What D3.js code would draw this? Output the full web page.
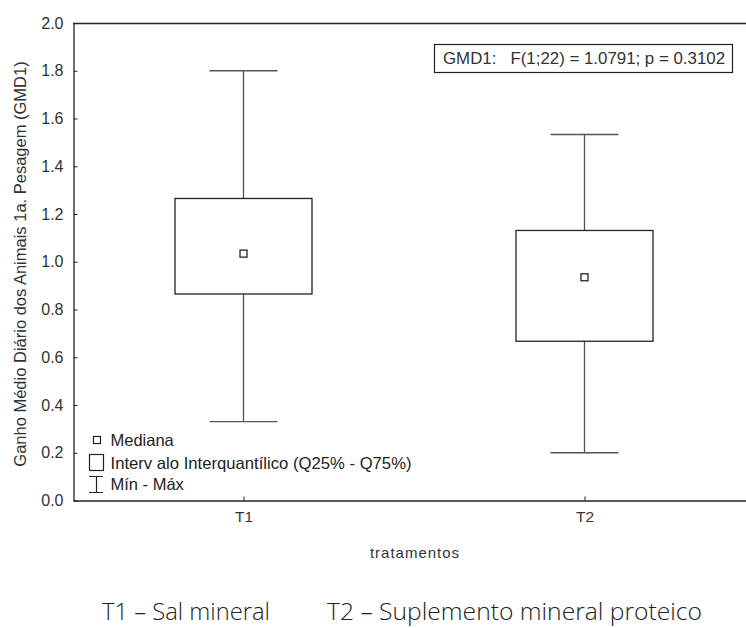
<!DOCTYPE html>
<html><head><meta charset="utf-8">
<script src="https://cdn.jsdelivr.net/npm/d3@7"></script>
<style>body{margin:0;background:#fff}svg{display:block}</style>
</head><body>
<svg id="c" width="746" height="628"></svg>
<script>
const categories = ["T1", "T2"];
const minVals = [0.33, 0.20];
const q25Vals = [0.865, 0.667];
const medianVals = [1.034, 0.935];
const q75Vals = [1.265, 1.131];
const maxVals = [1.80, 1.533];
const yTicks = [0.0, 0.2, 0.4, 0.6, 0.8, 1.0, 1.2, 1.4, 1.6, 1.8, 2.0];
const annotation = "GMD1:   F(1;22) = 1.0791; p = 0.3102";
const yTitle = "Ganho Médio Diário dos Animais 1a. Pesagem (GMD1)";
const xTitle = "tratamentos";
const legendItems = ["Mediana", "Interv alo Interquantílico (Q25% - Q75%)", "Mín - Máx"];
const caption1 = "T1 – Sal mineral", caption2 = "T2 – Suplemento mineral proteico";

const data = categories.map((c,i)=>({c, min:minVals[i], q25:q25Vals[i], med:medianVals[i], q75:q75Vals[i], max:maxVals[i]}));
const svg = d3.select("#c");
const L=73, T=23, B=500.5, R=755;
const y = d3.scaleLinear().domain([0,2]).range([B,T]);
const x = d3.scalePoint().domain(categories).range([L,R]).padding(0.5);
const font = "Liberation Sans, Arial, sans-serif";
const txt = "#333";

svg.append("line").attr("x1",L).attr("x2",746).attr("y1",T+0.5).attr("y2",T+0.5).attr("stroke","#222").attr("stroke-width",1.3);

const yAxis = svg.append("g").attr("transform",`translate(${L+0.5},0)`)
  .call(d3.axisLeft(y).tickValues(yTicks).tickFormat(d3.format(".1f")).tickSizeInner(-4).tickSizeOuter(0).tickPadding(10));
yAxis.select(".domain").attr("stroke","#222").attr("stroke-width",1.3);
yAxis.selectAll(".tick line").attr("stroke","#222");
yAxis.selectAll("text").attr("font-family",font).attr("font-size",16).attr("fill",txt);

const xAxis = svg.append("g").attr("transform",`translate(0,${B})`)
  .call(d3.axisBottom(x).tickSizeInner(-4).tickSizeOuter(0).tickPadding(10));
xAxis.select(".domain").attr("stroke","#222").attr("stroke-width",1.3);
xAxis.selectAll(".tick line").attr("stroke","#222");
xAxis.selectAll("text").attr("font-family",font).attr("font-size",15.5).attr("fill",txt);

const bw = 137, cw = 68;
const g = svg.append("g").selectAll("g").data(data).join("g");
g.append("line").attr("x1",d=>x(d.c)).attr("x2",d=>x(d.c)).attr("y1",d=>y(d.max)).attr("y2",d=>y(d.q75)).attr("stroke","#555").attr("stroke-width",1.3);
g.append("line").attr("x1",d=>x(d.c)).attr("x2",d=>x(d.c)).attr("y1",d=>y(d.q25)).attr("y2",d=>y(d.min)).attr("stroke","#555").attr("stroke-width",1.3);
g.append("line").attr("x1",d=>x(d.c)-cw/2).attr("x2",d=>x(d.c)+cw/2).attr("y1",d=>y(d.max)).attr("y2",d=>y(d.max)).attr("stroke","#555").attr("stroke-width",1.3);
g.append("line").attr("x1",d=>x(d.c)-cw/2).attr("x2",d=>x(d.c)+cw/2).attr("y1",d=>y(d.min)).attr("y2",d=>y(d.min)).attr("stroke","#555").attr("stroke-width",1.3);
g.append("rect").attr("x",d=>x(d.c)-bw/2).attr("width",bw).attr("y",d=>y(d.q75)).attr("height",d=>y(d.q25)-y(d.q75))
  .attr("fill","#fff").attr("stroke","#222").attr("stroke-width",1.3);
g.append("rect").attr("x",d=>x(d.c)-3.5).attr("y",d=>y(d.med)-3.5).attr("width",7).attr("height",7)
  .attr("fill","#fff").attr("stroke","#222").attr("stroke-width",1.3);

const ab = svg.append("g");
ab.append("rect").attr("x",434.5).attr("y",44.5).attr("width",298).attr("height",28).attr("fill","#fff").attr("stroke","#222").attr("stroke-width",1.2);
ab.append("text").attr("x",443).attr("y",63.5).attr("font-family",font).attr("font-size",16.5).attr("fill",txt)
  .style("white-space","pre").attr("textLength",282).attr("lengthAdjust","spacingAndGlyphs").text(annotation);

const lg = svg.append("g");
lg.append("rect").attr("x",93.5).attr("y",436.5).attr("width",7).attr("height",7).attr("fill","none").attr("stroke","#222").attr("stroke-width",1.2);
lg.append("rect").attr("x",89.5).attr("y",454.5).attr("width",14).attr("height",16).attr("fill","none").attr("stroke","#222").attr("stroke-width",1.2);
lg.append("path").attr("d","M89,476.5H103M96.5,476.5V492.5M89,492.5H103").attr("fill","none").attr("stroke","#222").attr("stroke-width",1.2);
[446, 468.5, 490].forEach((yy,i)=>{
  lg.append("text").attr("x",110.5).attr("y",yy).attr("font-family",font).attr("font-size",16.5).attr("fill","#222")
    .style("white-space","pre").text(legendItems[i]);
});
lg.select("text:nth-of-type(2)").attr("textLength",301).attr("lengthAdjust","spacingAndGlyphs");

svg.append("text").attr("transform","translate(25.5,264) rotate(-90)").attr("text-anchor","middle")
  .attr("font-family",font).attr("font-size",16.5).attr("fill",txt).text(yTitle);
svg.append("text").attr("x",415).attr("y",558).attr("text-anchor","middle").attr("letter-spacing",1)
  .attr("font-family",font).attr("font-size",15).attr("fill",txt).text(xTitle);

svg.append("text").attr("x",102).attr("y",620).attr("font-family","Open Sans, sans-serif").attr("font-weight",300).attr("font-size",24)
  .attr("fill","#222").attr("textLength",168).attr("lengthAdjust","spacingAndGlyphs").text(caption1);
svg.append("text").attr("x",327).attr("y",620).attr("font-family","Open Sans, sans-serif").attr("font-weight",300).attr("font-size",24)
  .attr("fill","#222").attr("textLength",375).attr("lengthAdjust","spacingAndGlyphs").text(caption2);
</script>
</body></html>
